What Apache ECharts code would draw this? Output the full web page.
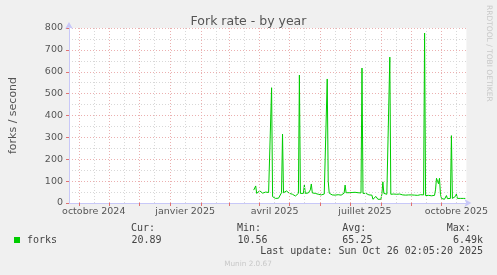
<!DOCTYPE html>
<html><head><meta charset="utf-8">
<script src="https://cdn.jsdelivr.net/npm/echarts@6/dist/echarts.min.js"></script>
<style>html,body{margin:0;padding:0;background:#f0f0f0;}#c{width:497px;height:275px;}</style>
</head><body><div id="c"></div>
<script>
// ---- data ----
const firstDay = '2025-03-26';           // first daily sample
const forks = [
 59,62,78,44,50,46,                       // Mar 26-31
 56,47,50,45,48,46,50,56,46,48,44,45,527,29,24,21,21,21,21,22,24,30,47,315,47,46,48,55,62,50, // Apr
 44,45,44,40,33,32,32,32,33,44,585,44,44,46,44,82,44,45,44,46,45,60,87,46,44,45,44,45,44,40,38, // May
 38,37,38,40,41,42,44,567,100,45,52,50,37,37,37,36,37,37,38,37,37,36,37,38,45,82,47,47,48,47, // Jun
 48,49,48,50,48,49,50,44,47,56,47,46,617,44,44,43,44,43,42,37,37,37,36,17,17,18,30,37,17,17,17, // Jul
 17,40,97,44,40,40,40,40,42,667,40,41,42,41,40,41,40,39,40,41,40,38,37,38,37,36,37,38,37,36,36, // Aug
 37,36,35,36,37,36,35,37,38,38,38,38,37,777,34,34,34,35,34,34,33,34,34,35,60,113,100,88,113,40, // Sep
 21,18,17,17,18,34,20,21,21,21,308,21,21,21,30,41,21,21,21,21,21,21,21,21,21 // Oct 1-25
];
const rangeStart = '2024-09-21T02:05:20Z';
const rangeEnd = '2025-10-26T02:05:20Z';
const monthStarts = ['2024-10-01','2024-11-01','2024-12-01','2025-01-01','2025-02-01','2025-03-01','2025-04-01','2025-05-01','2025-06-01','2025-07-01','2025-08-01','2025-09-01','2025-10-01'];
const midMonths = ['2024-10-16','2024-11-16','2024-12-16','2025-01-16','2025-02-16','2025-03-16','2025-04-16','2025-05-16','2025-06-16','2025-07-16','2025-08-16','2025-09-16','2025-10-16'];
const labelDates = ['2024-10-16','2025-01-16','2025-04-16','2025-07-16','2025-10-16'];
const labelTexts = ['octobre 2024','janvier 2025','avril 2025','juillet 2025','octobre 2025'];
const yMax = 800, yStep = 100;
const legendStats = {cur:'20.89', min:'10.56', avg:'65.25', max:'6.49k'};

// ---- build ----
const DAY = 86400000;
const ts = s => Date.parse(s.length === 10 ? s + 'T00:00:00Z' : s);
const t0 = ts(firstDay);
const seriesData = forks.map((v, i) => [t0 + i * DAY, v]);
const monthTs = monthStarts.map(ts), midTs = midMonths.map(ts), labelTs = labelDates.map(ts);
const RED = '#ebb0b0', GREY = '#d8d8d8', AXIS = '#c8c8f8', TXT = '#555';
const MONO = '10px "DejaVu Sans Mono"';

const chart = echarts.init(document.getElementById('c'), null, {renderer: 'canvas'});
chart.setOption({
  backgroundColor: '#f0f0f0',
  animation: false,
  title: {text: 'Fork rate - by year', left: 'center', top: 10,
    textStyle: {fontFamily: 'DejaVu Sans', fontSize: 12.5, fontWeight: 'normal', color: TXT}},
  grid: {left: 66, right: 30.6, top: 28, bottom: 72, show: true, backgroundColor: '#fff', borderWidth: 0},
  xAxis: {
    type: 'value', min: ts(rangeStart), max: ts(rangeEnd), scale: true,
    axisLine: {show: true, lineStyle: {color: AXIS, width: 1}, symbol: ['none', 'arrow'], symbolSize: [6, 7], symbolOffset: [0, 5]},
    axisTick: {show: true, customValues: monthTs, length: 3, inside: false, lineStyle: {color: '#e07070'}},
    axisLabel: {customValues: labelTs, formatter: v => labelTexts[labelTs.indexOf(v)] || '',
      fontFamily: 'DejaVu Sans', fontSize: 9.5, color: TXT, margin: 4, hideOverlap: false, showMinLabel: true, showMaxLabel: true},
    splitLine: {show: false}
  },
  yAxis: {
    type: 'value', min: 0, max: yMax, interval: yStep,
    name: 'forks / second', nameLocation: 'middle', nameGap: 50,
    nameTextStyle: {fontFamily: 'DejaVu Sans', fontSize: 11, color: TXT},
    axisLine: {show: true, lineStyle: {color: AXIS, width: 1}, symbol: ['none', 'arrow'], symbolSize: [6, 7], symbolOffset: [0, 6]},
    axisTick: {show: true, length: 3, lineStyle: {color: '#e07070'}},
    axisLabel: {fontFamily: 'DejaVu Sans', fontSize: 9.5, color: TXT, margin: 6},
    splitLine: {show: true, lineStyle: {color: RED, type: [1, 2], width: 1}},
    minorTick: {show: false, splitNumber: 2},
    minorSplitLine: {show: true, lineStyle: {color: GREY, type: [1, 2], width: 1}}
  },
  series: [
    {type: 'line', data: [], z: 1, silent: true,
     markLine: {symbol: 'none', silent: true, animation: false, label: {show: false},
       data: [
         ...midTs.map(t => ({xAxis: t, lineStyle: {color: GREY, type: [1, 2], width: 1}})),
         ...monthTs.map(t => ({xAxis: t, lineStyle: {color: RED, type: [1, 2], width: 1}}))
       ]}},
    {type: 'line', name: 'forks', data: seriesData, z: 3, symbol: 'none', showSymbol: false,
     lineStyle: {color: '#00cc00', width: 1}}
  ],
  graphic: [
    {type: 'text', x: 489, y: 5, rotation: -Math.PI / 2,
     style: {text: 'RRDTOOL / TOBI OETIKER', fill: '#c8c8c8', font: '7.5px "DejaVu Sans"', textAlign: 'left', textVerticalAlign: 'middle'}},
    {type: 'rect', shape: {x: 14, y: 237, width: 6, height: 6}, style: {fill: '#00cc00'}},
    {type: 'text', x: 27, y: 240, style: {text: 'forks', fill: '#444', font: MONO, textVerticalAlign: 'middle'}},
    {type: 'text', x: 131, y: 228, style: {text: 'Cur:', fill: '#444', font: MONO, textVerticalAlign: 'middle'}},
    {type: 'text', x: 131.5, y: 240, style: {text: legendStats.cur, fill: '#444', font: MONO, textVerticalAlign: 'middle'}},
    {type: 'text', x: 237, y: 228, style: {text: 'Min:', fill: '#444', font: MONO, textVerticalAlign: 'middle'}},
    {type: 'text', x: 237.5, y: 240, style: {text: legendStats.min, fill: '#444', font: MONO, textVerticalAlign: 'middle'}},
    {type: 'text', x: 342.3, y: 228, style: {text: 'Avg:', fill: '#444', font: MONO, textVerticalAlign: 'middle'}},
    {type: 'text', x: 342.3, y: 240, style: {text: legendStats.avg, fill: '#444', font: MONO, textVerticalAlign: 'middle'}},
    {type: 'text', x: 446.7, y: 228, style: {text: 'Max:', fill: '#444', font: MONO, textVerticalAlign: 'middle'}},
    {type: 'text', x: 483, y: 240, style: {text: legendStats.max, fill: '#444', font: MONO, textAlign: 'right', textVerticalAlign: 'middle'}},
    {type: 'text', x: 483, y: 251.5, style: {text: 'Last update: Sun Oct 26 02:05:20 2025', fill: '#444', font: MONO, textAlign: 'right', textVerticalAlign: 'middle'}},
    {type: 'text', x: 248, y: 264, style: {text: 'Munin 2.0.67', fill: '#c8c8c8', font: '7.3px "DejaVu Sans"', textAlign: 'center', textVerticalAlign: 'middle'}}
  ]
});
</script></body></html>
